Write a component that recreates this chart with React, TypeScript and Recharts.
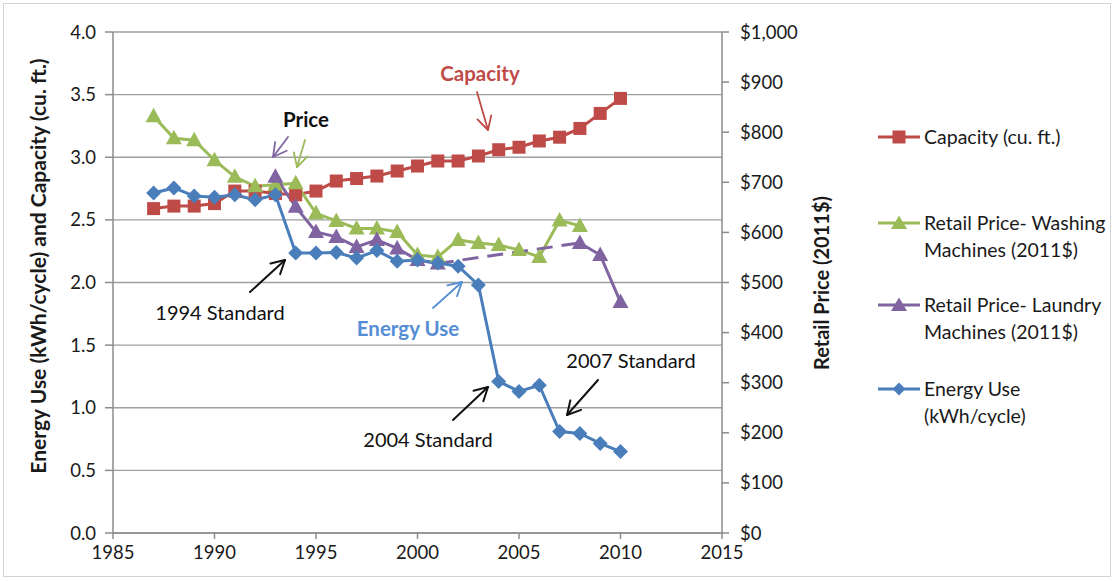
import React from 'react';
import { ComposedChart, Line, XAxis, YAxis, CartesianGrid, Legend } from 'recharts';

const years = [
  1987, 1988, 1989, 1990, 1991, 1992, 1993, 1994, 1995, 1996, 1997, 1998,
  1999, 2000, 2001, 2002, 2003, 2004, 2005, 2006, 2007, 2008, 2009, 2010,
];
// cu. ft. (left axis)
const capacity = [
  2.59, 2.61, 2.61, 2.63, 2.73, 2.73, 2.71, 2.7, 2.73, 2.81, 2.83, 2.85,
  2.89, 2.93, 2.97, 2.97, 3.01, 3.06, 3.08, 3.13, 3.16, 3.23, 3.35, 3.47,
];
// 2011$ (right axis)
const washingPrice = [
  832, 788, 784, 744, 711, 692, 695, 698, 638, 623, 608, 608,
  601, 555, 551, 585, 579, 575, 565, 551, 624, 613, null, null,
];
const laundryPrice = [
  null, null, null, null, null, null, 711, 651, 601, 591, 571, 585,
  568, 545, 538, null, null, null, null, null, null, 579, 555, 461,
];
// years joined by the dashed purple segment
const laundryBridgeYears = [2001, 2008];
// kWh/cycle (left axis)
const energyUse = [
  2.715, 2.755, 2.69, 2.68, 2.7, 2.66, 2.7, 2.235, 2.235, 2.24, 2.195, 2.255,
  2.17, 2.18, 2.155, 2.13, 1.98, 1.21, 1.13, 1.18, 0.81, 0.795, 0.715, 0.65,
];

const xTicks = [1985, 1990, 1995, 2000, 2005, 2010, 2015];
const leftTicks = [0, 0.5, 1, 1.5, 2, 2.5, 3, 3.5, 4];
const rightTicks = [0, 100, 200, 300, 400, 500, 600, 700, 800, 900, 1000];

const RED = '#be4b48';
const GREEN = '#9bbb59';
const PURPLE = '#8064a2';
const BLUE = '#4a7ebb';
const FONT = 'Lato, "Open Sans", sans-serif';

const data = years.map((year, i) => ({
  year,
  capacity: capacity[i],
  washing: washingPrice[i],
  laundry: laundryPrice[i],
  laundryBridge: laundryBridgeYears.includes(year) ? laundryPrice[i] : null,
  energy: energyUse[i],
}));

const squareDot = (color: string) => (p: any) => {
  if (p.cx == null || p.cy == null || p.value == null) return <g key={`s${p.index}`} />;
  return <rect key={`s${p.index}`} x={p.cx - 6.5} y={p.cy - 6.5} width={13} height={13} fill={color} />;
};

const triangleDot = (color: string) => (p: any) => {
  if (p.cx == null || p.cy == null || p.value == null) return <g key={`t${p.index}`} />;
  const { cx, cy } = p;
  return (
    <polygon
      key={`t${p.index}`}
      points={`${cx},${cy - 8.5} ${cx + 8},${cy + 6} ${cx - 8},${cy + 6}`}
      fill={color}
    />
  );
};

const diamondDot = (color: string) => (p: any) => {
  if (p.cx == null || p.cy == null || p.value == null) return <g key={`d${p.index}`} />;
  const { cx, cy } = p;
  return (
    <polygon
      key={`d${p.index}`}
      points={`${cx},${cy - 7.5} ${cx + 7.5},${cy} ${cx},${cy + 7.5} ${cx - 7.5},${cy}`}
      fill={color}
    />
  );
};

const legendItems = [
  { lines: ['Capacity (cu. ft.)'], color: RED, shape: 'square', top: 119 },
  { lines: ['Retail Price- Washing', 'Machines (2011$)'], color: GREEN, shape: 'triangle', top: 205 },
  { lines: ['Retail Price- Laundry', 'Machines (2011$)'], color: PURPLE, shape: 'triangle', top: 287 },
  { lines: ['Energy Use', '(kWh/cycle)'], color: BLUE, shape: 'diamond', top: 371 },
];

function LegendContent() {
  return (
    <div style={{ position: 'relative', width: 240, height: 320, fontFamily: FONT, fontSize: 19.5, color: '#1a1a1a' }}>
      {legendItems.map((item) => (
        <div key={item.lines[0]} style={{ position: 'absolute', left: 0, top: item.top - 115 }}>
          <svg width={44} height={26} style={{ position: 'absolute', left: 0, top: 0 }}>
            <line x1={1} y1={13} x2={43} y2={13} stroke={item.color} strokeWidth={3} />
            {item.shape === 'square' && <rect x={15.5} y={6.5} width={13} height={13} fill={item.color} />}
            {item.shape === 'triangle' && <polygon points="22,5.5 30,19 14,19" fill={item.color} />}
            {item.shape === 'diamond' && <polygon points="22,6.5 28.5,13 22,19.5 15.5,13" fill={item.color} />}
          </svg>
          <div style={{ position: 'absolute', left: 47, top: 0, whiteSpace: 'nowrap', lineHeight: '26.5px' }}>
            {item.lines.map((l) => (
              <div key={l}>{l}</div>
            ))}
          </div>
        </div>
      ))}
    </div>
  );
}

function Arrow({ from, to, color, width = 2 }: { from: number[]; to: number[]; color: string; width?: number }) {
  const ang = Math.atan2(to[1] - from[1], to[0] - from[0]);
  const len = 15;
  const spread = 0.5;
  const b1 = [to[0] - len * Math.cos(ang - spread), to[1] - len * Math.sin(ang - spread)];
  const b2 = [to[0] - len * Math.cos(ang + spread), to[1] - len * Math.sin(ang + spread)];
  return (
    <g stroke={color} strokeWidth={width} fill="none" strokeLinecap="round" strokeLinejoin="round">
      <line x1={from[0]} y1={from[1]} x2={to[0]} y2={to[1]} />
      <polyline points={`${b1[0]},${b1[1]} ${to[0]},${to[1]} ${b2[0]},${b2[1]}`} />
    </g>
  );
}

export default function App() {
  const tick = { fill: '#1a1a1a', fontSize: 18.5, fontFamily: FONT };
  return (
    <div style={{ position: 'relative', width: 1115, height: 581, background: '#fff' }}>
      <style>{'body{margin:0}'}</style>
      <ComposedChart
        width={1115}
        height={581}
        data={data}
        margin={{ top: 32, right: 293, bottom: 18, left: 0 }}
      >
        <CartesianGrid yAxisId="left" vertical={false} stroke="#9e9e9e" strokeWidth={1.3} />
        <XAxis
          dataKey="year"
          type="number"
          domain={[1985, 2015]}
          ticks={xTicks}
          height={30}
          tickSize={6}
          tickMargin={7}
          tick={tick}
          stroke="#8c8c8c"
          strokeWidth={1.5}
          interval={0}
        />
        <YAxis
          yAxisId="left"
          domain={[0, 4]}
          ticks={leftTicks}
          width={113}
          tickSize={8}
          tickMargin={9}
          tick={tick}
          tickFormatter={(v: number) => v.toFixed(1)}
          stroke="#8c8c8c"
          strokeWidth={1.5}
          interval={0}
        />
        <YAxis
          yAxisId="right"
          orientation="right"
          domain={[0, 1000]}
          ticks={rightTicks}
          width={100}
          tickSize={7}
          tickMargin={11}
          tick={{ ...tick, textAnchor: 'start' }}
          tickFormatter={(v: number) => '$' + v.toLocaleString('en-US')}
          stroke="#8c8c8c"
          strokeWidth={1.5}
          interval={0}
        />
        <Legend
          layout="horizontal"
          align="center"
          verticalAlign="middle"
          wrapperStyle={{ left: 877, top: 120, width: 240, height: 320 }}
          content={() => <LegendContent />}
        />
        <Line
          yAxisId="left"
          dataKey="capacity"
          stroke={RED}
          strokeWidth={3}
          dot={squareDot(RED)}
          activeDot={false}
          isAnimationActive={false}
        />
        <Line
          yAxisId="right"
          dataKey="washing"
          stroke={GREEN}
          strokeWidth={3}
          dot={triangleDot(GREEN)}
          activeDot={false}
          isAnimationActive={false}
        />
        <Line
          yAxisId="right"
          dataKey="laundryBridge"
          stroke={PURPLE}
          strokeWidth={3}
          strokeDasharray="16 9"
          connectNulls
          dot={false}
          activeDot={false}
          legendType="none"
          isAnimationActive={false}
        />
        <Line
          yAxisId="right"
          dataKey="laundry"
          stroke={PURPLE}
          strokeWidth={3}
          dot={triangleDot(PURPLE)}
          activeDot={false}
          isAnimationActive={false}
        />
        <Line
          yAxisId="left"
          dataKey="energy"
          stroke={BLUE}
          strokeWidth={3}
          dot={diamondDot(BLUE)}
          activeDot={false}
          isAnimationActive={false}
        />
      </ComposedChart>
      <svg
        width={1115}
        height={581}
        style={{ position: 'absolute', left: 0, top: 0, pointerEvents: 'none' }}
        fontFamily={FONT}
      >
        <rect x={3.5} y={3.5} width={1107} height={573} fill="none" stroke="#d4d4d4" />
        <text
          transform="translate(46,266) rotate(-90)"
          textAnchor="middle"
          fontSize={21}
          fontWeight={700}
          fill="#1a1a1a"
        >
          Energy Use (kWh/cycle) and Capacity (cu. ft.)
        </text>
        <text
          transform="translate(829,283) rotate(-90)"
          textAnchor="middle"
          fontSize={20}
          fontWeight={700}
          fill="#1a1a1a"
        >
          Retail Price (2011$)
        </text>

        <text x={306} y={127} textAnchor="middle" fontSize={20.5} fontWeight={700} fill="#111">Price</text>
        <Arrow from={[288, 137]} to={[273, 157]} color={PURPLE} width={1.8} />
        <Arrow from={[305, 140]} to={[297, 167]} color={GREEN} width={1.8} />

        <text x={480} y={81} textAnchor="middle" fontSize={20.5} fontWeight={700} fill={RED}>Capacity</text>
        <Arrow from={[477, 92]} to={[488, 130]} color={RED} width={1.8} />

        <text x={408} y={336} textAnchor="middle" fontSize={20.5} fontWeight={700} fill="#558ed5">Energy Use</text>
        <Arrow from={[433, 308]} to={[462, 282]} color="#558ed5" width={1.8} />

        <text x={220} y={320} textAnchor="middle" fontSize={20} fill="#111">1994 Standard</text>
        <Arrow from={[250, 292]} to={[285, 260]} color="#111" />

        <text x={428} y={447} textAnchor="middle" fontSize={20} fill="#111">2004 Standard</text>
        <Arrow from={[453, 420]} to={[488, 387]} color="#111" />

        <text x={631} y={368} textAnchor="middle" fontSize={20} fill="#111">2007 Standard</text>
        <Arrow from={[598, 380]} to={[567, 415]} color="#111" />
      </svg>
    </div>
  );
}
